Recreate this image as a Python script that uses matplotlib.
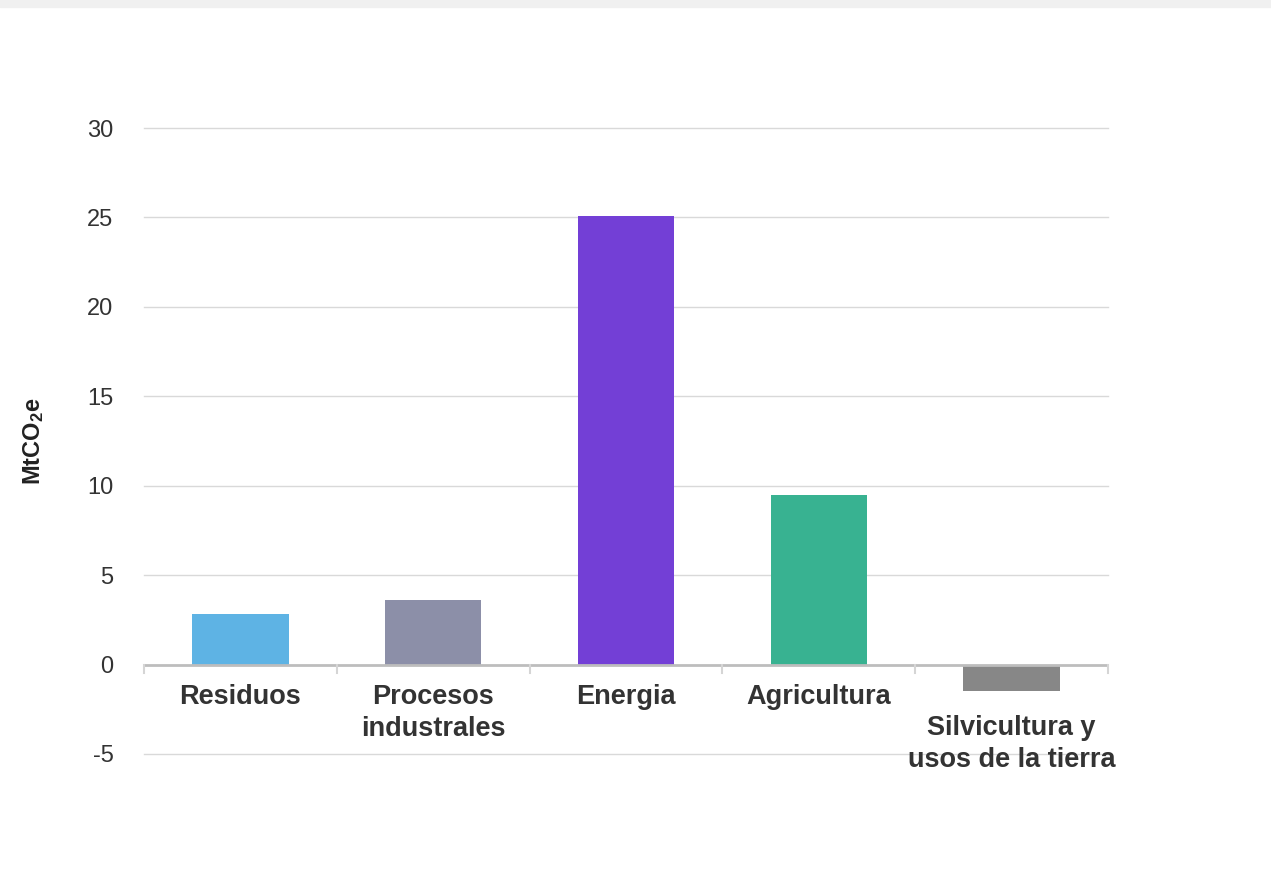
import matplotlib
matplotlib.use('Agg')
import matplotlib.pyplot as plt
from matplotlib.patches import Rectangle
import numpy as np

plt.rcParams['font.family'] = ['Liberation Sans', 'DejaVu Sans']
plt.rcParams['mathtext.default'] = 'regular'

# data
categories = ['Residuos', 'Procesos\nindustrales', 'Energia', 'Agricultura',
              'Silvicultura y\nusos de la tierra']
values = [2.8, 3.6, 25.1, 9.5, -1.5]
colors = ['#5eb3e4', '#8c8fa8', '#733fd6', '#38b291', '#878787']
yticks = [-5, 0, 5, 10, 15, 20, 25, 30]

fig = plt.figure(figsize=(12.71, 8.75), dpi=100)
fig.patches.append(Rectangle((0, 1 - 7 / 875), 1, 7 / 875, transform=fig.transFigure,
                             color='#f0f0f0', zorder=0))
ax = fig.add_axes([144 / 1271, 1 - 754 / 875, (1108 - 144) / 1271, (754 - 128) / 875])

x = np.arange(len(categories))
ax.bar(x, values, width=0.5, color=colors, zorder=3)

ax.set_xlim(-0.5, len(categories) - 0.5)
ax.set_ylim(-5, 30)
ax.set_yticks(yticks)
ax.set_yticklabels([str(t) for t in yticks], fontsize=17, color='#333333')
ax.tick_params(axis='y', length=0, pad=22)
ax.set_xticks([])
for s in ax.spines.values():
    s.set_visible(False)
for t in yticks:
    if t != 0:
        ax.axhline(t, color='#d9d9d9', lw=1, zorder=1, clip_on=False)
ax.axhline(0, color='#bdbdbd', lw=2, zorder=4)

# category separators on the zero line
for b in np.arange(len(categories) + 1) - 0.5:
    ax.plot([b, b], [0, -0.45], color='#d5d5d5', lw=1.5, zorder=4, clip_on=False)

for i, lab in enumerate(categories):
    off = -22 if values[i] < 0 else 0
    ax.annotate(lab, xy=(i, 0), xytext=(0, -14 + off), textcoords='offset points',
                ha='center', va='top', fontsize=19.5, fontweight='bold', color='#333333',
                linespacing=1.3)

ax.set_ylabel('MtCO$_2$e', fontsize=17, fontweight='bold', color='#222222', labelpad=30)

fig.savefig('out.png', dpi=100)
